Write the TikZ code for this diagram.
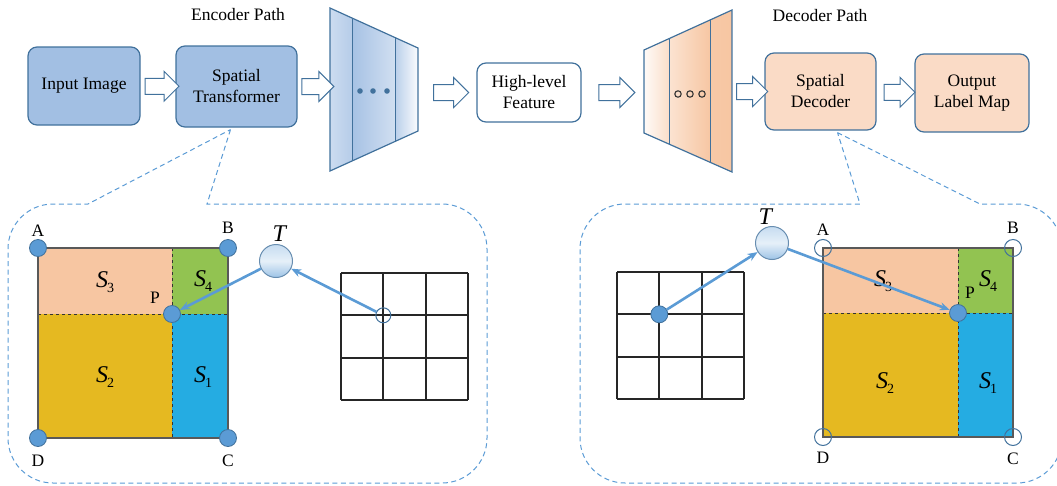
\documentclass[tikz,border=0pt]{standalone}
\usepackage{fontspec}
\setmainfont{Liberation Serif}
\usetikzlibrary{calc,positioning,shapes.arrows,arrows.meta}

\definecolor{edgeblue}{HTML}{41719C}
\definecolor{boxblue}{HTML}{A2BFE3}
\definecolor{boxpeach}{HTML}{FADBC6}
\definecolor{dotblue}{HTML}{5B9BD5}
\definecolor{sthree}{HTML}{F7C6A2}
\definecolor{sfour}{HTML}{92C351}
\definecolor{stwo}{HTML}{E5B921}
\definecolor{sone}{HTML}{25ACE2}
\definecolor{squareedge}{HTML}{595959}

\newcommand{\boxfont}{\fontsize{17.5}{21}\selectfont}
\newcommand{\Slab}[1]{\textit{S}\kern-1pt\raisebox{-0.45ex}{\fontsize{14}{14}\selectfont #1}}

\tikzset{
  box/.style={draw=edgeblue, line width=1.2pt, rounded corners=9pt, align=center, font=\boxfont, inner sep=0pt},
  bluebox/.style={box, fill=boxblue},
  peachbox/.style={box, fill=boxpeach},
  hollow/.style={single arrow, draw=edgeblue, fill=white, line width=1pt, inner ysep=7.5pt, inner xsep=0pt, single arrow head extend=7pt, minimum height=#1},
  callout/.style={draw=dotblue, dash pattern=on 5pt off 3.5pt, line width=1pt},
  lbl/.style={font=\boxfont, inner sep=1pt},
  slbl/.style={font=\fontsize{24}{24}\selectfont, inner sep=0pt},
  fulldot/.style={circle, draw=edgeblue, fill=dotblue, line width=0.8pt, minimum size=17pt, inner sep=0pt},
  opendot/.style={circle, draw=edgeblue, line width=1pt, minimum size=17pt, inner sep=0pt},
  tnode/.style={circle, draw=edgeblue!80, line width=1pt, minimum size=33pt, inner sep=0pt, top color=dotblue!35, bottom color=dotblue!60, middle color=white!85!dotblue},
  ptr/.style={-{Stealth[length=10pt,width=8pt]}, line width=2.6pt, draw=dotblue},
  gridline/.style={line width=1.8pt, draw=black!85},
  square/.style={line width=1.4pt, draw=squareedge},
  split/.style={dashed, line width=0.9pt, draw=black!80}
}

\begin{document}
\begin{tikzpicture}[x=1pt,y=-1pt]
  \useasboundingbox (0,0) rectangle (1057,485);

  % top row
  \node[lbl] (enctitle) at (238,15) {Encoder Path};
  \node[lbl] (dectitle) at (820,16) {Decoder Path};

  \node[bluebox, minimum width=112pt, minimum height=78pt] (in) at (84,86) {Input Image};
  \node[bluebox, minimum width=121pt, minimum height=81pt] (st) at (236.5,86.5) {Spatial\\Transformer};
  \node[box, fill=white, minimum width=104pt, minimum height=59pt] (hl) at (529,92.5) {High-level\\Feature};
  \node[peachbox, minimum width=111pt, minimum height=77pt] (sd) at (820.5,91.5) {Spatial\\Decoder};
  \node[peachbox, minimum width=114pt, minimum height=78pt] (out) at (972,93) {Output\\Label Map};

  % encoder block
  \coordinate (e1) at (330,8);
  \coordinate (e2) at (418,48);
  \coordinate (e3) at (418,131);
  \coordinate (e4) at (330,171);
  \begin{scope}
    \clip (e1) -- (e2) -- (e3) -- (e4) -- cycle;
    \shade[left color=boxblue!55, right color=boxblue!80] (330,0) rectangle (353,180);
    \shade[left color=boxblue!95, right color=boxblue!50] (353,0) rectangle (395,180);
    \shade[left color=boxblue!75, right color=white!95!boxblue] (395,0) rectangle (418,180);
  \end{scope}
  \draw[edgeblue, line width=1.2pt] (e1) -- (e2) -- (e3) -- (e4) -- cycle;
  \draw[edgeblue, line width=1pt] ($(e1)!0.261!(e2)$) -- ($(e4)!0.261!(e3)$);
  \draw[edgeblue, line width=1pt] ($(e1)!0.739!(e2)$) -- ($(e4)!0.739!(e3)$);
  \foreach \x in {360,373,387} {
    \fill[edgeblue] (\x,91) circle (2.8);
  }

  % decoder block
  \coordinate (d1) at (644,50);
  \coordinate (d2) at (732,10);
  \coordinate (d3) at (732,172);
  \coordinate (d4) at (644,133);
  \begin{scope}
    \clip (d1) -- (d2) -- (d3) -- (d4) -- cycle;
    \shade[left color=sthree!8, right color=sthree!60] (644,0) rectangle (670,180);
    \shade[left color=sthree!50, right color=sthree!100] (670,0) rectangle (711,180);
    \shade[left color=sthree!95, right color=sthree!100] (711,0) rectangle (732,180);
  \end{scope}
  \draw[edgeblue, line width=1.2pt] (d1) -- (d2) -- (d3) -- (d4) -- cycle;
  \draw[edgeblue, line width=1pt] ($(d1)!0.295!(d2)$) -- ($(d4)!0.295!(d3)$);
  \draw[edgeblue, line width=1pt] ($(d1)!0.761!(d2)$) -- ($(d4)!0.761!(d3)$);
  \foreach \x in {678,690,702} {
    \draw[black!80, line width=1.1pt] (\x,94) circle (3.2);
  }

  % hollow arrows
  \node[hollow=34pt] (ar1) at ($(in.east)!0.5!(st.west)$) {};
  \node[hollow=32pt] (ar2) at ($(st.east)!0.5!(st.east -| e1)$) {};
  \node[hollow=35pt] (ar3) at ($(hl.west -| e2)!0.5!(hl.west)$) {};
  \node[hollow=36pt] (ar4) at ($(hl.east)!0.5!(hl.east -| d1)$) {};
  \node[hollow=31pt] (ar5) at ($(sd.west -| d2)!0.5!(sd.west)$) {};
  \node[hollow=31pt] (ar6) at ($(sd.east)!0.5!(out.west)$) {};

  % callouts
  \coordinate (lapex) at ([xshift=-6pt,yshift=-2pt]st.south);
  \coordinate (rapex) at ([xshift=17pt,yshift=-2pt]sd.south);
  \draw[callout] (lapex) -- (207,204) [rounded corners=45pt] -- (487,204) -- (487,483) -- (8,483) -- (8,204) [sharp corners] -- (88,204) -- (lapex);
  \draw[callout] (rapex) -- (980,204) [rounded corners=45pt] -- (1062,204) -- (1062,483) -- (580,483) -- (580,204) [sharp corners] -- (860,204) -- (rapex);

  % left detail: bilinear square
  \coordinate (lA) at (38,248);
  \coordinate (lB) at (228,248);
  \coordinate (lC) at (228,438);
  \coordinate (lD) at (38,438);
  \coordinate (lP) at (172,314);
  \fill[sthree] (lA) rectangle (lP);
  \fill[sfour] (lP |- lA) rectangle (lB |- lP);
  \fill[stwo] (lA |- lP) rectangle (lP |- lD);
  \fill[sone] (lP) rectangle (lC);
  \draw[split] (lP |- lA) -- (lP |- lD);
  \draw[split] (lA |- lP) -- (lB |- lP);
  \draw[square] (lA) rectangle (lC);

  \node[slbl] (ls3) at (105,282) {\Slab{3}};
  \node[slbl] (ls4) at (203,281) {\Slab{4}};
  \node[slbl] (ls2) at (105,377) {\Slab{2}};
  \node[slbl] (ls1) at (203,377) {\Slab{1}};

  \node[fulldot] (dA) at (lA) {};
  \node[fulldot] (dB) at (lB) {};
  \node[fulldot] (dC) at (lC) {};
  \node[fulldot] (dD) at (lD) {};
  \node[fulldot] (dP) at (lP) {};
  \node[lbl, above=1pt of dA] (tA) {A};
  \node[lbl, above=4pt of dB] (tB) {B};
  \node[lbl, below=7pt of dD] (tD) {D};
  \node[lbl, below=7pt of dC] (tC) {C};
  \node[lbl] (tP) at ([xshift=-17pt,yshift=16pt]lP) {P};

  % left grid
  \foreach \i in {0,...,3} {
    \draw[gridline] (341+42.33*\i,273) -- (341+42.33*\i,400);
    \draw[gridline] (341,273+42.33*\i) -- (468,273+42.33*\i);
  }
  \node[opendot, minimum size=15pt] (lgc) at (383.3,315.3) {};
  \node[tnode] (lT) at (276,261) {};
  \node[slbl, anchor=south] (lTt) at ([xshift=4pt,yshift=2pt]lT.north) {\textit{T}};
  \draw[ptr] (lgc) -- (lT);
  \draw[ptr] (lT) -- (dP);

  % right detail: grid
  \foreach \i in {0,...,3} {
    \draw[gridline] (617+42.33*\i,272) -- (617+42.33*\i,399);
    \draw[gridline] (617,272+42.33*\i) -- (744,272+42.33*\i);
  }
  \node[fulldot] (rgd) at (659.3,314.3) {};

  % right detail: bilinear square
  \coordinate (rA) at (823,248);
  \coordinate (rB) at (1013,248);
  \coordinate (rC) at (1013,437);
  \coordinate (rD) at (823,437);
  \coordinate (rP) at (958,313);
  \fill[sthree] (rA) rectangle (rP);
  \fill[sfour] (rP |- rA) rectangle (rB |- rP);
  \fill[stwo] (rA |- rP) rectangle (rP |- rD);
  \fill[sone] (rP) rectangle (rC);
  \draw[split] (rP |- rA) -- (rP |- rD);
  \draw[split] (rA |- rP) -- (rB |- rP);
  \draw[square] (rA) rectangle (rC);

  \node[slbl] (rs3) at (883,281) {\Slab{3}};
  \node[slbl] (rs4) at (988,281) {\Slab{4}};
  \node[slbl] (rs2) at (885,383) {\Slab{2}};
  \node[slbl] (rs1) at (988,383) {\Slab{1}};

  \node[opendot] (oA) at (rA) {};
  \node[opendot] (oB) at (rB) {};
  \node[opendot] (oC) at (rC) {};
  \node[opendot] (oD) at (rD) {};
  \node[fulldot] (oP) at (rP) {};
  \node[lbl, above=2pt of oA] (uA) {A};
  \node[lbl, above=4pt of oB] (uB) {B};
  \node[lbl, below=5pt of oD] (uD) {D};
  \node[lbl, below=6pt of oC] (uC) {C};
  \node[lbl] (uP) at ([xshift=12pt,yshift=20pt]rP) {P};

  \node[tnode] (rT) at (772,243) {};
  \node[slbl, anchor=south] (rTt) at ([xshift=-6pt,yshift=1pt]rT.north) {\textit{T}};
  \draw[ptr] (rgd) -- (rT);
  \draw[ptr] (rT) -- (oP);
\end{tikzpicture}
\end{document}
